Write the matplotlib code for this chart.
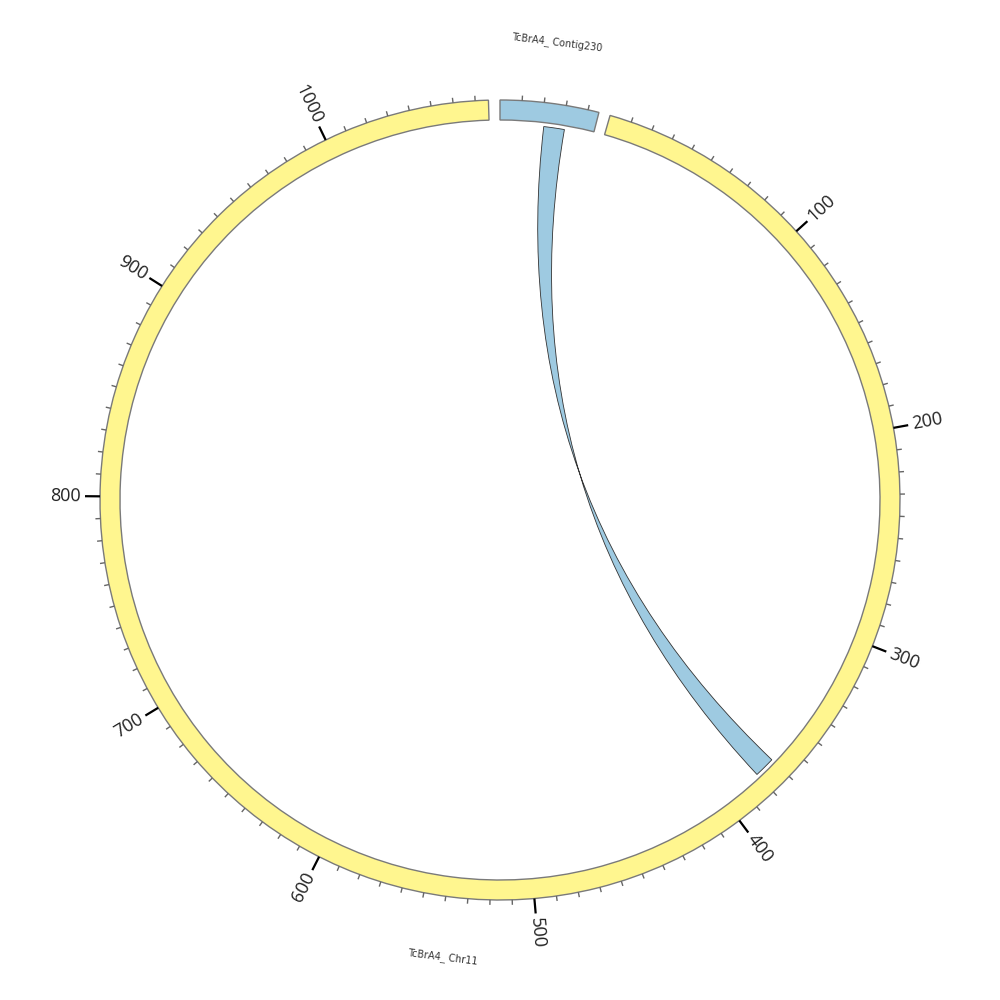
import numpy as np
import matplotlib
matplotlib.use("Agg")
import matplotlib.pyplot as plt
from matplotlib.patches import Wedge, PathPatch
from matplotlib.path import Path

# karyotype: name, length, colour
seg_names = ["TcBrA4_ Contig230", "TcBrA4_ Chr11"]
seg_lengths = [45, 1076]
seg_colors = ["#9ecae1", "#fff68f"]

# one link: (segment, start, end) -> (segment, start, end), inverted
link_src = (0, 21, 31)
link_dst = (1, 370, 380)
link_color = "#9ecae1"

GAP = 5.2           # gap between segments, same units as lengths
R_IN, R_OUT = 380, 400
R_LINK = 376
MINOR, MAJOR = 10, 100

total = sum(seg_lengths) + GAP * len(seg_lengths)
deg_per_unit = 360.0 / total
seg_start = []
acc = 0.0
for L in seg_lengths:
    seg_start.append(acc)
    acc += L + GAP


def angle(seg, pos):
    """clockwise degrees from 12 o'clock"""
    return (seg_start[seg] + pos) * deg_per_unit


def xy(r, ang):
    a = np.radians(ang)
    return r * np.sin(a), r * np.cos(a)


fig = plt.figure(figsize=(10, 10), dpi=100)
ax = fig.add_axes([0, 0, 1, 1])
ax.set_xlim(-500, 500)
ax.set_ylim(-500, 500)
ax.set_aspect("equal")
ax.axis("off")

# ideogram ring
for i, L in enumerate(seg_lengths):
    a0, a1 = angle(i, 0), angle(i, L)
    ax.add_patch(Wedge((0, 0), R_OUT, 90 - a1, 90 - a0, width=R_OUT - R_IN,
                       facecolor=seg_colors[i], edgecolor="#7a7a7a", lw=1.0))

# ticks and tick labels
for i, L in enumerate(seg_lengths):
    for p in range(MINOR, int(L) + 1, MINOR):
        a = angle(i, p)
        major = p % MAJOR == 0
        r2 = R_OUT + (15 if major else 5)
        x0, y0 = xy(R_OUT, a)
        x1, y1 = xy(r2, a)
        ax.plot([x0, x1], [y0, y1], color="black" if major else "#666666",
                lw=1.6 if major else 1.0, solid_capstyle="butt")
        if major:
            tx, ty = xy(R_OUT + 19, a)
            if a <= 180:
                rot, ha = 90 - a, "left"
            else:
                rot, ha = 270 - a, "right"
            ax.text(tx, ty, str(p), rotation=rot, ha=ha, va="center",
                    rotation_mode="anchor", fontsize=13, color="#222222",
                    family=["Open Sans", "DejaVu Sans"])

# segment names
for i, L in enumerate(seg_lengths):
    a = angle(i, L / 2)
    tx, ty = xy(461, a)
    rot = -a if (a < 90 or a > 270) else 180 - a
    ax.text(tx, ty, seg_names[i], rotation=rot, ha="center", va="center",
            rotation_mode="anchor", fontsize=7, color="#333333")

# twisted ribbon: source arc, bezier through centre to the far end of
# the target, target arc walked backwards, bezier home
s0, s1 = angle(link_src[0], link_src[1]), angle(link_src[0], link_src[2])
d0, d1 = angle(link_dst[0], link_dst[1]), angle(link_dst[0], link_dst[2])
verts, codes = [], []
for k, a in enumerate(np.linspace(s0, s1, 12)):
    verts.append(xy(R_LINK, a))
    codes.append(Path.MOVETO if k == 0 else Path.LINETO)
verts += [(0, 0), xy(R_LINK, d1)]
codes += [Path.CURVE3, Path.CURVE3]
for a in np.linspace(d1, d0, 12)[1:]:
    verts.append(xy(R_LINK, a))
    codes.append(Path.LINETO)
verts += [(0, 0), xy(R_LINK, s0)]
codes += [Path.CURVE3, Path.CURVE3]
verts.append(xy(R_LINK, s0))
codes.append(Path.CLOSEPOLY)
ax.add_patch(PathPatch(Path(verts, codes), facecolor=link_color,
                       edgecolor="#333333", lw=0.6))

fig.savefig("out.png", dpi=100, facecolor="white")
